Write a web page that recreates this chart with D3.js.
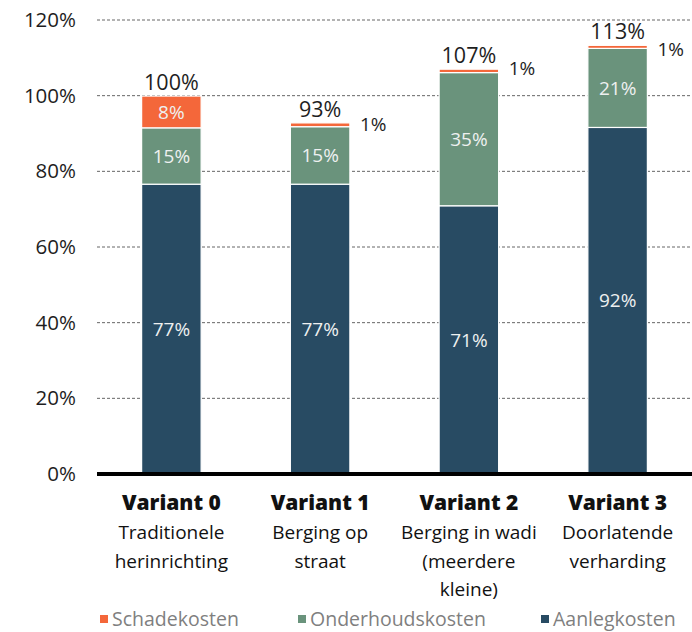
<!DOCTYPE html>
<html><head><meta charset="utf-8">
<script src="https://cdn.jsdelivr.net/npm/d3@7"></script>
<style>
html,body{margin:0;padding:0;background:#fff;}
svg{display:block;font-family:"Open Sans","Noto Sans",sans-serif;}
</style></head>
<body>
<svg id="chart" width="692" height="632"></svg>
<script>
const categories = ["Variant 0","Variant 1","Variant 2","Variant 3"];
const subtitles = [["Traditionele","herinrichting"],["Berging op","straat"],["Berging in wadi","(meerdere","kleine)"],["Doorlatende","verharding"]];
const seriesNames = ["Aanlegkosten","Onderhoudskosten","Schadekosten"];
const aanlegkosten = [76.6, 76.6, 70.9, 91.6];
const onderhoudskosten = [14.9, 15.2, 35.2, 20.9];
const schadekosten = [8.4, 1.0, 0.9, 0.8];
const yTicks = [0,20,40,60,80,100,120];
const colors = {"Aanlegkosten":"#284b63","Onderhoudskosten":"#6a937c","Schadekosten":"#f4673a"};

(function(){
const svg = d3.select("#chart");
const mLeft = 97, mRight = 692, mTop = 20, mBottom = 474;

const x = d3.scaleBand().domain(categories).range([mLeft, mRight]).paddingInner(0.6).paddingOuter(0.3);
const y = d3.scaleLinear().domain([0,120]).range([mBottom, mTop]);

// gridlines
svg.append("g").selectAll("line").data(yTicks.filter(d=>d>0)).join("line")
  .attr("x1", mLeft).attr("x2", mRight)
  .attr("y1", d=>y(d)).attr("y2", d=>y(d))
  .attr("stroke","#666").attr("stroke-width",1).attr("stroke-dasharray","3,2");

// y labels
const yAxis = d3.axisLeft(y).tickValues(yTicks).tickFormat(d=>d+"%").tickSize(0).tickPadding(0);
const ya = svg.append("g").attr("transform",`translate(76,0)`).call(yAxis);
ya.select(".domain").remove();
ya.attr("font-size",20.5).attr("font-family","Open Sans, Noto Sans, sans-serif");
ya.selectAll("text").attr("fill","#1e1e1e");

// stacked data
const rows = categories.map((c,i)=>({cat:c, Aanlegkosten:aanlegkosten[i], Onderhoudskosten:onderhoudskosten[i], Schadekosten:schadekosten[i]}));
const stack = d3.stack().keys(seriesNames)(rows);

const g = svg.append("g");
stack.forEach(layer=>{
  const key = layer.key;
  const lg = g.append("g");
  lg.selectAll("rect").data(layer).join("rect")
    .attr("x", d=>x(d.data.cat))
    .attr("width", x.bandwidth())
    .attr("y", d=>y(d[1]))
    .attr("height", d=>y(d[0])-y(d[1]))
    .attr("fill", colors[key])
    .attr("stroke","#fff").attr("stroke-width",1.2);
  layer.forEach((d,i)=>{
    const v = d[1]-d[0];
    const txt = Math.round(v)+"%";
    if (v >= 3) {
      g.append("text").attr("x", x(d.data.cat)+x.bandwidth()/2)
        .attr("y", (y(d[0])+y(d[1]))/2).attr("dy","0.35em")
        .attr("text-anchor","middle").attr("font-size",19).attr("fill","#eef0f0").text(txt);
    } else {
      g.append("text").attr("x", x(d.data.cat)+x.bandwidth()+10)
        .attr("y", (y(d[0])+y(d[1]))/2 + (i===2 ? -3 : i===3 ? 2 : 0)).attr("dy","0.35em")
        .attr("text-anchor","start").attr("font-size",19).attr("fill","#1e1e1e").text(txt);
    }
  });
});

// totals
rows.forEach(r=>{
  const t = r.Aanlegkosten + r.Onderhoudskosten + r.Schadekosten;
  svg.append("text").attr("x", x(r.cat)+x.bandwidth()/2).attr("y", y(t)-6)
    .attr("text-anchor","middle").attr("font-size",21.5).attr("fill","#1e1e1e").text(Math.round(t)+"%");
});

// x axis line
svg.append("line").attr("x1",mLeft).attr("x2",mRight).attr("y1",mBottom).attr("y2",mBottom)
  .attr("stroke","#000").attr("stroke-width",4);

// category labels
categories.forEach((c,i)=>{
  const cx = x(c)+x.bandwidth()/2;
  const t = svg.append("text").attr("text-anchor","middle").attr("fill","#111");
  t.append("tspan").attr("x",cx).attr("y",510).attr("font-size",21).attr("font-weight",800).text(c);
  subtitles[i].forEach((s,j)=>{
    t.append("tspan").attr("x",cx).attr("y",539+j*28.5).attr("font-size",19).text(s);
  });
});

// legend
const legendItems = [["Schadekosten",100],["Onderhoudskosten",298],["Aanlegkosten",541]];
legendItems.forEach(([name,lx])=>{
  svg.append("rect").attr("x",lx).attr("y",615).attr("width",8).attr("height",8).attr("fill",colors[name]);
  svg.append("text").attr("x",lx+12).attr("y",619).attr("dy","0.35em").attr("font-size",19.5).attr("fill","#7f7f7f").text(name);
});
})();
</script>
</body></html>
